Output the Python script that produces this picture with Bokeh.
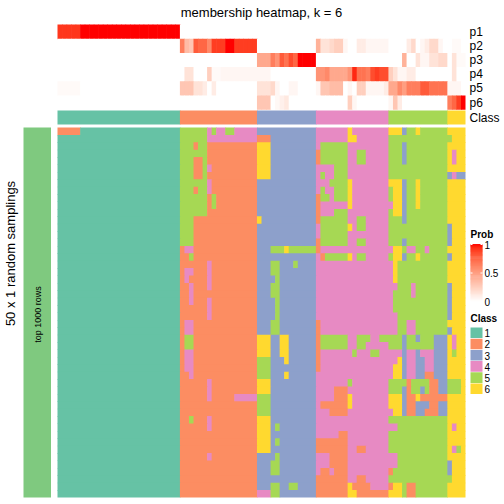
import math
from bokeh.plotting import figure
from bokeh.models import Range1d, ColumnDataSource, LinearColorMapper
from bokeh.transform import transform
from bokeh.core.properties import value
from bokeh.embed import file_html
from bokeh.resources import INLINE

# ---------------- data ----------------
title = "membership heatmap, k = 6"
class_labels = ["1", "2", "3", "4", "5", "6"]
class_colors = ["#66C2A5", "#FC8D62", "#8DA0CB", "#E78AC3", "#A6D854", "#FFD92F"]
class_sizes = [27, 17, 13, 16, 13, 4]
prob_rows = ["p1", "p2", "p3", "p4", "p5", "p6"]
prob_ticks = [1, 0.5, 0]
prob_tick_labels = ["1", "0.5", "0"]
left_title = "50 x 1 random samplings"
left_sub = "top 1000 rows"

p1 = [0.92]*5 + [1.0]*22 + [0]*17 + [0]*13 + [0]*16 + [0]*13 + [0]*4
p2 = ([0]*27
      + [0.65, 0.35, 0.3, 0.8, 0.75, 0.75, 0.6, 0.9, 0.9, 0.9, 1.0, 1.0, 0.9, 0.9, 0.9, 0.9, 0.9]
      + [0]*13
      + [0.4, 0.15, 0.15, 0.2, 0.25, 0.25, 0.05, 0, 0, 0.1, 0.1, 0.05, 0.05, 0.05, 0.05, 0.05]
      + [0, 0, 0, 0, 0.1, 0.2, 0, 0.05, 0.1, 0.2, 0.2, 0.05, 0]
      + [0, 0.03, 0.03, 0])
p3 = ([0]*27 + [0]*17
      + [0.45, 0.45, 0.45, 0.65, 0.55, 0.8, 0.7, 0.85, 0.75, 1, 1, 1, 1]
      + [0]*16
      + [0, 0, 0, 0.4, 0, 0, 0.15, 0.05, 0.05, 0.15, 0.15, 0.2, 0.2]
      + [0, 0.15, 0.03, 0.03])
p4 = ([0]*27
      + [0, 0.15, 0.15, 0, 0, 0, 0.25, 0.03, 0.03, 0.05, 0.05, 0.05, 0.05, 0.05, 0.05, 0.05, 0.05]
      + [0.05, 0.05, 0.05, 0, 0, 0, 0, 0, 0, 0, 0, 0, 0]
      + [0.55, 0.55, 0.6, 0.45, 0.45, 0.45, 0.45, 0.55, 0.95, 0.7, 0.7, 0.65, 0.85, 0.9, 0.85, 0.85]
      + [0.25, 0.15, 0.05, 0.05, 0.1, 0.1, 0, 0, 0, 0, 0, 0, 0]
      + [0, 0.15, 0, 0])
p5 = ([0.03]*5 + [0]*22
      + [0.3, 0.3, 0.3, 0.15, 0.15, 0.1, 0, 0.1, 0, 0, 0, 0, 0, 0, 0, 0, 0]
      + [0.15, 0.15, 0.15, 0.2, 0.05, 0, 0, 0.05, 0.05, 0, 0, 0, 0]
      + [0.05, 0.3, 0.3, 0.35, 0.35, 0.35, 0, 0.05, 0, 0.25, 0.25, 0.05, 0.05, 0.05, 0.05, 0.1]
      + [0.45, 0.45, 0.6, 0.5, 0.65, 0.65, 0.65, 0.8, 0.8, 0.7, 0.7, 0.7, 0.7]
      + [0.05, 0.05, 0.05, 0])
p6 = ([0]*27 + [0]*17
      + [0.3, 0.3, 0.3, 0, 0.04, 0.08, 0.12, 0, 0, 0, 0, 0, 0]
      + [0, 0, 0, 0, 0, 0, 0, 0.25, 0.05, 0, 0, 0, 0, 0, 0, 0]
      + [0.05, 0.3, 0.1, 0, 0, 0, 0, 0, 0, 0, 0, 0, 0]
      + [0.65, 0.75, 0.9, 1.0])

# class of each sampling (rows) for every column, per class segment
C1 = "1"*27
samplings = [
    ("22222" + "1"*22, "55555545445544444", "3333333333333", "4444444644444444", "6663556555555", "6666"),
    (C1, "55555544444444444", "2223333333333", "4444444664444444", "5555555555555", "5666"),
    (C1, "55525522222222222", "6663333333333", "4555555444444444", "5553555555555", "6666"),
    (C1, "55555522222222222", "6663333333333", "2555555445544444", "5553555555555", "6466"),
    (C1, "55522522222222222", "6663333333333", "2555555445544444", "5553555555555", "6466"),
    (C1, "55522542222222222", "6663333333333", "4444555444444444", "5555555555555", "6666"),
    (C1, "55522522222222222", "6663333333333", "4544555444444444", "5555555555555", "3433"),
    (C1, "55555542222222222", "3333333333333", "4445555644444444", "6663556555555", "6666"),
    (C1, "55525542222222222", "3333333333333", "4544555644444444", "5663556555555", "6666"),
    (C1, "55555525222222222", "3333333333333", "2554555644444444", "5663556555555", "6666"),
    (C1, "55555525222222222", "3333333333333", "2444444644444444", "4663556555555", "6666"),
    (C1, "55555522222222222", "3333333333333", "2444555444444444", "5663555555555", "6666"),
    (C1, "55522222222222222", "6333333333333", "2555555445544444", "5553555555555", "6666"),
    (C1, "55522222222222222", "3333333333333", "4555555645544444", "5555555555555", "3666"),
    (C1, "55522222222222222", "3333333333333", "4555555444444444", "5555555555555", "3666"),
    (C1, "55522222222222222", "3333333333333", "2555555445544444", "5553555555555", "3666"),
    (C1, "24422222222222222", "3335556555555", "2444444444444444", "4665445545555", "6666"),
    (C1, "22522222222222222", "3333333333333", "4255555645544444", "5663556555555", "3666"),
    (C1, "22222242222222222", "3335533353333", "4444444444444444", "4655555555555", "6666"),
    (C1, "24422242222222222", "3335533333333", "4444444444444444", "4655555555555", "6666"),
    (C1, "24222242222222222", "3333533333333", "4444444444444444", "4655555555555", "6666"),
    (C1, "22422242222222222", "3335533333333", "4444444444444444", "4455545555555", "3666"),
    (C1, "22422222222222222", "3335533333333", "4444444444444444", "4555545555555", "3666"),
    (C1, "22422242222222222", "3333533333333", "4444444444444444", "4555555555555", "3666"),
    (C1, "22222242222222222", "3333533333333", "4444444444444444", "4555555555555", "3666"),
    (C1, "22222242222222222", "3333533333333", "4444444444444444", "4455555555555", "3666"),
    (C1, "24422222222222222", "3335533333333", "2444444444444444", "4455445555555", "6666"),
    (C1, "24422222222222222", "3335533333333", "2444444444444444", "4455445555555", "3666"),
    (C1, "25522222222222222", "6663366333333", "2555555445554455", "5553553555333", "6466"),
    (C1, "25522222222222222", "6663366333333", "2555555445544444", "5553555555333", "6466"),
    (C1, "24422222222222222", "6663366333333", "2444444454445544", "4443443444333", "6566"),
    (C1, "24422222222222222", "5553336333333", "2444444444444444", "4463443344333", "6666"),
    (C1, "24422222222222222", "5553333333333", "2444444444444444", "4663443344333", "6666"),
    (C1, "22422222222222222", "5553336333333", "4444444444444444", "4663443322333", "6666"),
    (C1, "22222242222222222", "6663333333333", "4444444544444444", "5555255552233", "5556"),
    (C1, "22222242222222222", "6663333333333", "4444222444444444", "5553255352233", "5556"),
    (C1, "22222242222244444", "5553333333333", "4444222644444444", "6663226222222", "6666"),
    (C1, "22222222222222222", "5553333333333", "4222222644444444", "6663223332233", "6666"),
    (C1, "22222222222222222", "5553333333333", "4442222444444444", "4663223322233", "6666"),
    (C1, "22522242222222222", "6663333333333", "4444444444444444", "5555555555555", "6666"),
    (C1, "22222242222222222", "6663533333333", "4444444444444444", "4455555555555", "6466"),
    (C1, "22222222222222222", "6663333333333", "4444422444444444", "5555555555555", "6666"),
    (C1, "22222222222222222", "6663533333333", "2222222444444444", "5555555555555", "6666"),
    (C1, "22222222222222222", "6663333333333", "2222222442244444", "5555555555555", "6456"),
    (C1, "22222242222222222", "3333533333333", "4442222444444444", "4455555555555", "6666"),
    (C1, "22222222222222222", "3335533333333", "4442222444444444", "4455555555555", "3666"),
    (C1, "22222222222222222", "3335533333333", "4224222444444444", "2555555555555", "3666"),
    (C1, "22222222222222222", "3333333333333", "2222222442244444", "5555555555555", "5666"),
    (C1, "22222222222222222", "3335533553333", "2222222622224444", "2665225555555", "6666"),
    (C1, "22222222222222222", "4445533333333", "2222222662222222", "6665225555555", "6666"),
]

# ---------------- helpers ----------------
def _lin(c):
    c = c / 255.0
    return c / 12.92 if c <= 0.04045 else ((c + 0.055) / 1.055) ** 2.4

def _gam(c):
    c = 12.92 * c if c <= 0.0031308 else 1.055 * c ** (1 / 2.4) - 0.055
    return max(0, min(255, round(c * 255)))

def rgb2lab(r, g, b):
    r, g, b = _lin(r), _lin(g), _lin(b)
    x = (0.4124 * r + 0.3576 * g + 0.1805 * b) / 0.95047
    y = (0.2126 * r + 0.7152 * g + 0.0722 * b)
    z = (0.0193 * r + 0.1192 * g + 0.9505 * b) / 1.08883
    f = lambda t: t ** (1 / 3) if t > 0.008856 else 7.787 * t + 16 / 116
    fx, fy, fz = f(x), f(y), f(z)
    return 116 * fy - 16, 500 * (fx - fy), 200 * (fy - fz)

def lab2hex(L, a, b):
    fy = (L + 16) / 116
    fx = fy + a / 500
    fz = fy - b / 200
    finv = lambda t: t ** 3 if t ** 3 > 0.008856 else (t - 16 / 116) / 7.787
    x, y, z = finv(fx) * 0.95047, finv(fy), finv(fz) * 1.08883
    r = 3.2406 * x - 1.5372 * y - 0.4986 * z
    g = -0.9689 * x + 1.8758 * y + 0.0415 * z
    bb = 0.0557 * x - 0.2040 * y + 1.0570 * z
    return "#%02x%02x%02x" % (_gam(max(r, 0)), _gam(max(g, 0)), _gam(max(bb, 0)))

w_lab = rgb2lab(255, 255, 255)
r_lab = rgb2lab(255, 0, 0)
palette = [lab2hex(*[w_lab[k] + (r_lab[k] - w_lab[k]) * i / 255 for k in range(3)]) for i in range(256)]
mapper = LinearColorMapper(palette=palette, low=0, high=1)

FONT = value("Liberation Sans")

# ---------------- layout constants (page pixels) ----------------
HX0, HX1 = 57.0, 465.0
NCOL = sum(class_sizes)
CW = (HX1 - HX0) / NCOL
PY0, PH = 24.0, 14.2
CLS_Y0, CLS_Y1 = 110.0, 124.0
HY0, HY1 = 127.0, 497.0
NROW = len(samplings)
RH = (HY1 - HY0) / NROW
OV = 0.6  # tiny overlap to hide antialiasing seams

p = figure(width=504, height=504, output_backend="svg", toolbar_location=None,
           x_range=Range1d(0, 504), y_range=Range1d(504, 0),
           min_border=0, outline_line_color=None, background_fill_color="white")
p.xaxis.visible = False
p.yaxis.visible = False
p.grid.visible = False

# ---- probability annotation rows ----
pl, pr, pt, pb, pv = [], [], [], [], []
for ri, vals in enumerate([p1, p2, p3, p4, p5, p6]):
    assert len(vals) == NCOL
    for c, v in enumerate(vals):
        pl.append(HX0 + c * CW)
        pr.append(min(HX0 + (c + 1) * CW + OV, HX1))
        pt.append(PY0 + ri * PH)
        pb.append(PY0 + (ri + 1) * PH + (OV if ri < 5 else 0))
        pv.append(v)
src_p = ColumnDataSource(dict(left=pl, right=pr, top=pt, bottom=pb, v=pv))
p.quad(left="left", right="right", top="top", bottom="bottom", source=src_p,
       fill_color=transform("v", mapper), line_color=None)

# ---- class annotation row ----
cl, cr, cc = [], [], []
start = 0
for k, n in enumerate(class_sizes):
    cl.append(HX0 + start * CW)
    cr.append(min(HX0 + (start + n) * CW + OV, HX1))
    cc.append(class_colors[k])
    start += n
p.quad(left=cl, right=cr, top=CLS_Y0, bottom=CLS_Y1, fill_color=cc, line_color=None)

# ---- main heatmap (runs of same class merged) ----
hl, hr, ht, hb, hc = [], [], [], [], []
for r, segs in enumerate(samplings):
    row = "".join(segs)
    assert len(row) == NCOL, (r, len(row))
    c = 0
    while c < NCOL:
        e = c
        while e + 1 < NCOL and row[e + 1] == row[c]:
            e += 1
        hl.append(HX0 + c * CW)
        hr.append(min(HX0 + (e + 1) * CW + OV, HX1))
        ht.append(HY0 + r * RH)
        hb.append(min(HY0 + (r + 1) * RH + OV, HY1))
        hc.append(class_colors[int(row[c]) - 1])
        c = e + 1
p.quad(left=hl, right=hr, top=ht, bottom=hb, fill_color=hc, line_color=None)

# ---- left bar ----
p.quad(left=[23], right=[50.5], top=[HY0], bottom=[HY1], fill_color="#7FC97F", line_color=None)
p.text(x=[10], y=[253], text=[left_title], angle=math.pi / 2, text_align="center",
       text_baseline="middle", text_font=FONT, text_font_size="13px", text_color="black")
p.text(x=[37], y=[314], text=[left_sub], angle=math.pi / 2, text_align="center",
       text_baseline="middle", text_font=FONT, text_font_size="9px", text_color="black")

# ---- title and row labels ----
p.text(x=[(HX0 + HX1) / 2], y=[12], text=[title], text_align="center", text_baseline="middle",
       text_font=FONT, text_font_size="13px", text_color="black")
p.text(x=[469] * 6, y=[PY0 + (i + 0.5) * PH for i in range(6)], text=prob_rows,
       text_align="left", text_baseline="middle", text_font=FONT, text_font_size="12px", text_color="black")
p.text(x=[469], y=[(CLS_Y0 + CLS_Y1) / 2], text=["Class"], text_align="left", text_baseline="middle",
       text_font=FONT, text_font_size="12px", text_color="black")

# ---- Prob legend ----
LG_X0, LG_X1 = 470.0, 482.0
CB_TOP, CB_BOT = 244.0, 301.0
p.text(x=[LG_X0], y=[234], text=["Prob"], text_align="left", text_baseline="middle",
       text_font=FONT, text_font_size="10px", text_font_style="bold", text_color="black")
nseg = 60
cbv = [(i + 0.5) / nseg for i in range(nseg)]
src_cb = ColumnDataSource(dict(
    v=cbv,
    top=[CB_BOT - (i + 1) * (CB_BOT - CB_TOP) / nseg - OV for i in range(nseg)],
    bottom=[CB_BOT - i * (CB_BOT - CB_TOP) / nseg for i in range(nseg)],
))
p.quad(left=LG_X0, right=LG_X1, top="top", bottom="bottom", source=src_cb,
       fill_color=transform("v", mapper), line_color=None)
tick_y = [CB_BOT - t * (CB_BOT - CB_TOP) for t in prob_ticks]
for ty in tick_y[:2]:
    p.segment(x0=[LG_X0], x1=[LG_X0 + 2], y0=[ty], y1=[ty], line_color="white", line_width=1)
    p.segment(x0=[LG_X1 - 2], x1=[LG_X1], y0=[ty], y1=[ty], line_color="white", line_width=1)
p.text(x=[484] * 3, y=tick_y, text=prob_tick_labels, text_align="left", text_baseline="middle",
       text_font=FONT, text_font_size="10px", text_color="black")

# ---- Class legend ----
p.text(x=[LG_X0], y=[318], text=["Class"], text_align="left", text_baseline="middle",
       text_font=FONT, text_font_size="10px", text_font_style="bold", text_color="black")
KEY_Y0, KEY_H = 327.0, 11.2
p.quad(left=LG_X0, right=LG_X1, top=[KEY_Y0 + i * KEY_H for i in range(6)],
       bottom=[KEY_Y0 + (i + 1) * KEY_H - 0.6 for i in range(6)], fill_color=class_colors, line_color=None)
p.text(x=[484] * 6, y=[KEY_Y0 + (i + 0.5) * KEY_H for i in range(6)], text=class_labels,
       text_align="left", text_baseline="middle", text_font=FONT, text_font_size="10px", text_color="black")

open("out.html", "w").write(file_html(p, INLINE))
